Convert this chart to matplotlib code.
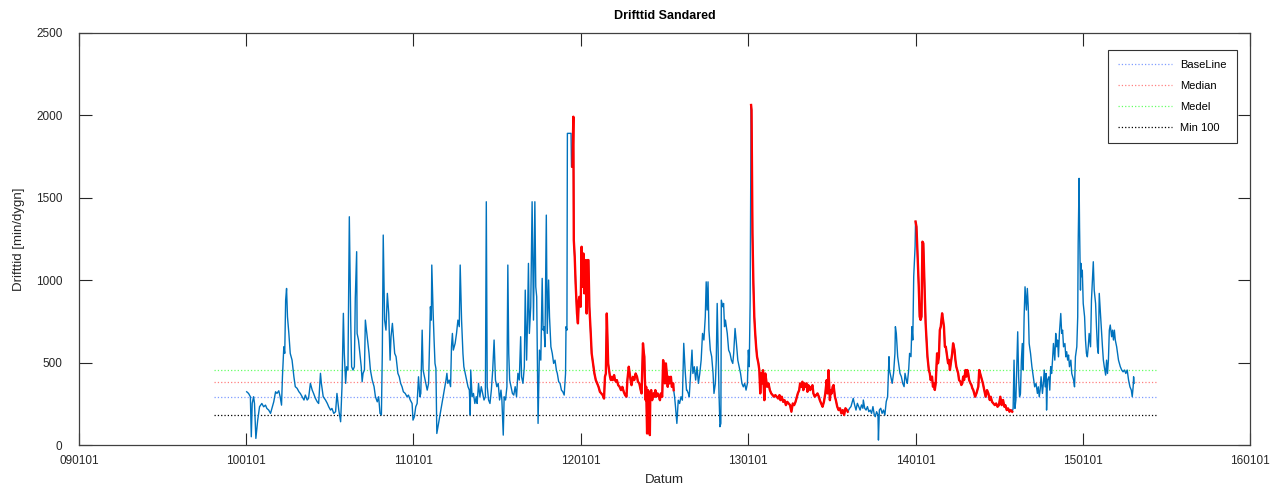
import numpy as np
import matplotlib
matplotlib.use("Agg")
import matplotlib.pyplot as plt
import matplotlib.dates as mdates

plt.rcParams['font.family'] = ['Liberation Sans', 'DejaVu Sans']

# (dagar sedan 2010-01-01, drifttid min/dygn)
seg_2010 = [(1,323),(5,313),(9,293),(11,50),(13,252),(16,293),(18,252),(21,40),(25,151),(29,232),
    (34,252),(38,232),(42,242),(45,222),(49,212),(53,192),(56,222),(60,262),(64,323),(67,313),
    (71,329),(74,293),(77,242),(79,414),(82,596),(84,556),(86,880),(88,950),(90,778),(93,677),
    (96,556),(100,515),(104,414),(107,354),(111,344),(115,323),(118,313),(122,293),(126,273),(129,303),
    (133,273),(136,283),(140,374),(144,333),(147,313),(151,283),(155,262),(158,252),(162,435),(164,374),
    (168,293),(173,273),(177,252),(180,232),(184,212),(187,222),(191,192),(195,202),(198,313),(202,212),
    (206,141),(209,354),(212,799),(214,556),(217,374),(219,475),(222,455),(225,1385),(228,758),(230,475),
    (233,455),(236,475),(238,890),(241,1173),(242,677),(245,637),(248,556),(251,475),(253,384),(255,435),
    (258,455),(260,758),(264,657),(268,556),(271,455),(275,394),(279,354),(282,293),(286,262),(289,293),
    (292,192),(295,182),(297,556),(299,1274),(302,758),(305,697),(308,920)]

seg_2011 = [(311,799),(314,515),(316,657),(319,738),(324,556),(327,536),(331,435),(334,414),(337,374),
    (340,354),(343,323),(347,313),(351,293),(354,303),(358,273),(362,252),(364,151),(367,172),(370,232),
    (373,252),(376,414),(379,293),(381,313),(384,697),(386,455),(389,414),(392,374),(395,333),(398,374),
    (400,596),(402,839),(404,758),(405,1092),(408,799),(410,637),(412,495),(414,465),(416,70),(436,394),
    (438,435),(440,374),(443,394),(446,354),(448,596),(450,677),(452,576),(454,596),(456,617),(459,677),
    (462,758),(465,718),(467,1092),(470,758),(473,556),(475,475),(478,435),(481,394),(484,354),(487,333),
    (489,182),(490,455),(493,293),(496,313),(499,252),(502,293),(504,252),(507,374),(510,293),(513,354),
    (516,313),(519,273),(522,293),(524,1476),(526,354),(529,273),(532,252),(535,333),(538,455),(541,637),
    (544,394),(547,354),(550,374),(553,273),(556,333),(558,273),(561,60),(563,293),(566,273),(569,354),
    (571,1092),(573,556),(575,394),(578,354),(581,313),(584,303),(587,354),(590,293),(593,435),(596,394),
    (599,657),(601,414),(604,374),(607,475),(609,940),(612,515),(614,758),(616,1102),(618,677),(621,839),
    (624,1476),(627,758),(630,1476),(632,960),(634,900),(637,131),(640,576),(643,515),(646,1011),(648,697),
    (650,718),(652,596),(655,1395),(657,677),(660,1001),(662,778),(665,596),(668,556),(671,495),(674,515),
    (677,454),(679,434),(682,384),(685,374),(688,333),(691,323),(694,303),(697,434),(698,718),(700,697),
    (701,1891),(707,1891),(709,1891),(710,1688)]

seg_2012 = [(712,1688),(714,1992),(715,1243),(717,1142),(719,980),(722,798),(724,738),(726,879),(727,899),
    (730,839),(732,1203),(734,960),(736,1162),(738,920),(741,1122),(743,798),(745,1122),(747,1122),(749,839),
    (752,677),(754,556),(757,495),(760,434),(763,394),(766,374),(769,353),(772,323),(775,313),(778,303),
    (781,282),(783,414),(785,434),(787,798),(790,495),(792,454),(794,414),(796,394),(798,414),(800,394),
    (803,424),(805,394),(807,384),(809,394),(812,363),(815,353),(818,333),(821,353),(824,323),(827,303),
    (830,293),(832,394),(835,475),(837,434),(839,394),(841,363),(844,414),(847,394),(850,434),(853,414),
    (855,384),(858,374),(861,333),(863,313),(865,515),(866,617),(868,556),(869,536),(870,414),(872,272),
    (873,353),(875,70),(877,333),(879,313),(881,60),(882,313),(884,333),(886,272),(889,313),(891,293),
    (893,333),(895,293),(898,313),(901,293),(903,272),(905,313),(908,293),(910,515),(912,475),(914,374),
    (916,495),(918,434),(920,353),(922,414),(924,374),(927,414),(929,353),(932,374),(933,333),
    (935,293),(937,232),(940,131),(943,272),(946,252),(949,293),(952,272),(955,617),(958,454),(961,333),
    (962,333),(965,313),(967,293),(970,434),(973,576),(975,434),(978,475),(981,394),(984,475),(987,374),
    (990,434),(993,515),(996,677),(999,637),(1002,778),(1004,990),(1006,819),(1008,990),(1010,697),(1013,576),
    (1016,536),(1019,434),(1021,313),(1024,374),(1026,515),(1028,859),(1030,576),(1032,313),(1034,111),
    (1036,131),(1037,879),(1040,839),(1042,859),(1044,718),(1046,758),(1048,718),(1050,677),(1053,576),
    (1056,556),(1059,515),(1062,495),(1064,556),(1067,707),(1070,617),(1073,515),(1076,475),(1079,434),
    (1082,374),(1085,353),(1088,374),(1091,333),(1094,374),(1096,576),(1098,475),(1100,879)]

seg_2013 = [(1102,2063),(1103,2032),(1105,1284),(1107,980),(1109,778),(1111,677),(1113,596),(1115,536),
    (1118,495),(1120,454),(1122,313),(1124,434),(1126,374),(1128,454),(1131,272),(1133,434),(1135,394),
    (1137,353),(1140,374),(1143,333),(1146,313),(1149,303),(1152,293),(1155,303),(1158,293),(1161,282),
    (1164,303),(1166,272),(1169,293),(1172,262),(1175,272),(1178,242),(1181,262),(1184,252),(1187,242),
    (1190,202),(1193,252),(1196,242),(1199,262),(1201,282),(1204,313),(1207,333),(1209,374),(1212,353),
    (1214,384),(1216,333),(1218,374),(1220,353),(1223,374),(1225,323),(1227,363),(1229,353),(1231,333),
    (1234,353),(1236,363),(1238,313),(1241,293),(1244,303),(1247,313),(1250,293),(1252,272),(1255,252),
    (1258,232),(1261,262),(1264,313),(1267,394),(1269,313),(1271,454),(1274,272),(1276,333),(1278,313),
    (1280,353),(1282,364),(1285,293),(1287,273),(1290,233),(1293,212),(1296,223),(1299,192),(1302,212),
    (1305,182),(1308,223),(1311,212),(1313,202),
    (1317,223),(1320,233),(1322,253),(1325,283),(1328,243),(1331,212),(1334,253),(1337,233),(1340,212),
    (1343,243),(1346,223),(1347,273),(1350,223),(1353,212),(1356,233),(1359,202),(1362,212),(1365,192),
    (1368,233),(1371,182),(1373,172),(1376,202),(1379,182),(1380,30),(1382,212),(1385,223),(1388,192),
    (1391,212),(1394,182),(1397,263),(1400,293),(1403,536),(1404,455),(1407,415),(1410,374),(1413,435),
    (1416,556),(1417,718),(1419,678),(1422,536),(1425,475),(1427,435),(1430,415),(1433,374),(1436,354),
    (1438,435),(1441,394),(1443,374),(1446,455),(1448,556),(1451,536),(1453,718),(1455,637),(1457,1022),
    (1460,1204)]

seg_2014 = [(1461,1356),(1463,1325),(1465,1184),(1468,961),(1470,779),(1472,759),(1474,779),(1476,1234),
    (1478,1224),(1481,921),(1483,739),(1485,637),(1487,536),(1490,455),(1492,435),(1494,394),(1497,415),
    (1499,354),(1501,374),(1503,334),(1505,374),(1508,556),(1510,496),(1512,536),(1514,698),(1516,718),
    (1519,799),(1521,759),(1523,718),(1525,597),(1527,597),(1530,536),(1532,496),(1534,516),(1536,455),
    (1538,496),(1541,556),(1543,617),(1546,577),(1548,516),(1550,475),(1552,455),(1554,435),(1556,394),
    (1559,384),(1561,364),(1563,374),(1565,415),(1567,394),(1570,455),(1572,415),(1574,455),(1576,435),
    (1578,394),(1581,374),(1583,364),(1585,344),(1587,334),(1589,314),(1591,293),(1594,314),(1596,334),
    (1598,354),(1600,455),(1602,435),(1608,374),(1611,333),(1614,293),(1617,333),(1620,313),(1623,273),
    (1625,293),(1628,262),(1631,252),(1634,242),(1637,252),(1640,232),(1643,242),(1646,293),(1649,242),
    (1652,273),(1655,232),(1657,242),(1660,212),(1663,222),(1666,202),(1669,212),(1672,202)]

seg_2015 = [(1674,222),(1676,515),(1678,222),(1680,273),(1682,475),(1684,687),(1686,414),(1688,293),
    (1690,313),(1692,515),(1694,616),(1696,455),(1698,778),(1700,960),(1703,819),(1705,950),(1707,839),
    (1709,616),(1712,556),(1715,475),(1718,414),(1721,353),(1724,374),(1727,313),(1729,353),(1731,293),
    (1733,333),(1735,414),(1738,313),(1740,374),(1742,455),(1744,353),(1746,434),(1747,212),(1749,394),
    (1752,414),(1754,333),(1756,475),(1758,434),(1760,515),(1762,616),(1765,515),(1767,677),(1769,596),
    (1771,637),(1773,535),(1775,677),(1778,798),(1780,677),(1782,697),(1784,596),(1787,616),(1789,535),
    (1791,566),(1793,515),(1795,546),(1797,475),(1800,515),(1802,434),(1804,414),(1806,394),(1808,353),
    (1810,535),(1813,596),(1815,778),(1816,1223),(1818,1618),(1819,1324),(1821,940),(1822,1102),(1824,1021),
    (1825,1061),(1827,859),(1830,778),(1832,637),(1834,556),(1836,535),(1838,596),(1840,677),(1843,596),
    (1845,879),(1847,1001),(1849,1112),(1851,940),(1854,859),(1856,717),(1858,596),(1860,556),(1862,920),
    (1865,778),(1867,677),(1869,596),(1871,515),(1873,475),(1876,424),(1878,515),(1880,434),(1882,515),
    (1884,697),(1886,728),(1889,657),(1891,697),(1893,637),(1895,697),(1897,637),(1900,596),(1902,556),
    (1904,515),(1906,495),(1908,475),(1911,455),(1914,444),(1917,455),(1920,434),(1923,455),(1926,394),
    (1929,353),(1932,333),(1934,293),(1936,353),(1937,414),(1938,374)]

# perioder som markeras rott (dagar)
red_periods = [(712, 933), (1102, 1313), (1461, 1672)]

# referensnivåer
level_names = ['BaseLine', 'Median', 'Medel', 'Min 100']
level_values = [290, 380, 455, 180]
level_colors = ['#7f9cff', '#ff8080', '#66ff66', 'black']
level_span = (-70, 1988)

start = np.datetime64('2010-01-01')
data = np.array(seg_2010 + seg_2011 + seg_2012 + seg_2013 + seg_2014 + seg_2015)
days = data[:, 0].astype(int)
vals = data[:, 1]
dates = start + days.astype('timedelta64[D]')

fig = plt.figure(figsize=(12.79, 4.88), dpi=100)
ax = fig.add_axes([0.0618, 0.0881, 0.9155, 0.8443])

# referenslinjer
x0 = start + np.timedelta64(level_span[0], 'D')
x1 = start + np.timedelta64(level_span[1], 'D')
for name, v, c in zip(level_names, level_values, level_colors):
    ax.plot([x0, x1], [v, v], linestyle=':', color=c, lw=0.9, label=name)

ax.plot(dates, vals, color='#0072BD', lw=1.0)
for a, b in red_periods:
    m = (days >= a) & (days <= b)
    ax.plot(dates[m], vals[m], color='#ff0000', lw=1.7)

ax.set_xlim(np.datetime64('2009-01-01'), np.datetime64('2016-01-01'))
ax.set_ylim(0, 2500)
ax.set_yticks(np.arange(0, 2501, 500))
ax.xaxis.set_major_locator(mdates.YearLocator())
ax.xaxis.set_major_formatter(mdates.DateFormatter('%y%m%d'))

ax.tick_params(direction='in', length=9, width=0.8, top=True, right=True,
               labelsize=8.5, colors='#262626')
ax.tick_params(axis='x', pad=7)
ax.tick_params(axis='y', pad=12)
for s in ax.spines.values():
    s.set_color('#404040')
    s.set_linewidth(0.9)

ax.set_title('Drifttid Sandared', fontsize=9, fontweight='bold', pad=10)
ax.set_xlabel('Datum', fontsize=9.5, color='#262626', labelpad=5)
ax.set_ylabel('Drifttid [min/dygn]', fontsize=9.5, color='#262626', labelpad=8)

leg = ax.legend(loc='upper right', bbox_to_anchor=(0.9889, 0.9587), borderaxespad=0,
                fontsize=8, handlelength=4.8, frameon=True, fancybox=False, framealpha=1,
                edgecolor='#333333', borderpad=0.9, labelspacing=1.0, handletextpad=0.8)
leg.get_frame().set_linewidth(0.8)

fig.savefig('out.png', dpi=100)
